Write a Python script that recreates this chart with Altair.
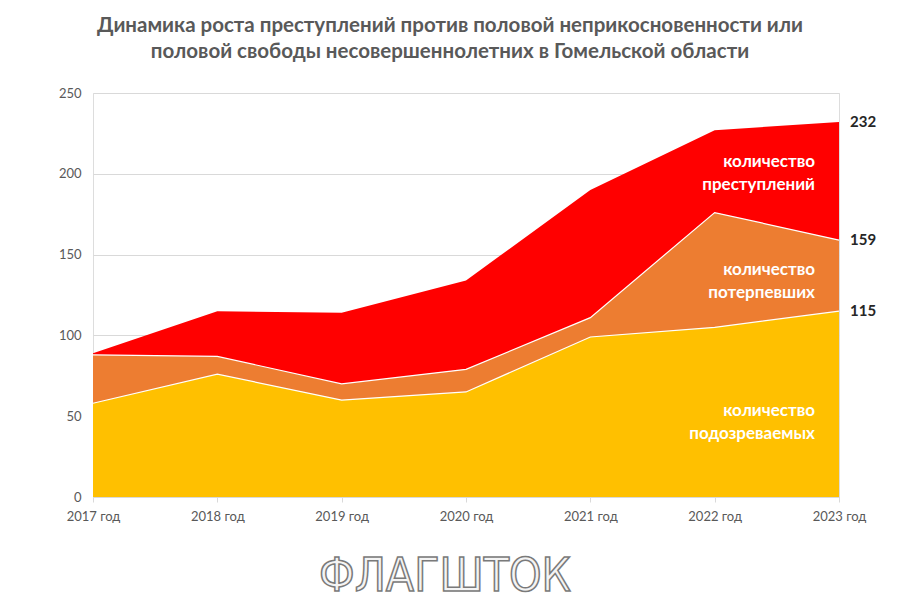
import altair as alt
import pandas as pd

years = ["2017 год", "2018 год", "2019 год", "2020 год", "2021 год", "2022 год", "2023 год"]
crimes = [89, 115, 114, 134, 190, 227, 232]
victims = [88, 87, 70, 79, 111, 176, 159]
suspects = [58, 76, 60, 65, 99, 105, 115]

df = pd.DataFrame({"year": years, "crimes": crimes, "victims": victims, "suspects": suspects})
last = pd.DataFrame({"year": [years[-1]] * 3, "v": [crimes[-1], victims[-1], suspects[-1]],
                     "t": [str(crimes[-1]), str(victims[-1]), str(suspects[-1])]})

FONT = "Lato"
GRAY = "#595959"

x = alt.X("year:N", sort=years, title=None,
          scale=alt.Scale(type="point", padding=0),
          axis=alt.Axis(labelAngle=0, labelColor=GRAY, labelFontSize=13, labelFont=FONT,
                        domainColor="#d9d9d9", tickColor="#d9d9d9", tickSize=5,
                        labelPadding=8, grid=False))
yscale = alt.Scale(domain=[0, 250], nice=False)
yaxis = alt.Axis(values=[0, 50, 100, 150, 200, 250], labelColor=GRAY, labelFontSize=13,
                 labelFont=FONT, domain=False, ticks=False, labelPadding=12,
                 grid=True, gridColor="#d9d9d9", gridWidth=1)

def area(field, color):
    return alt.Chart(df).mark_area(color=color, opacity=1,
                                   line={"color": "white", "strokeWidth": 1.2}).encode(
        x=x, y=alt.Y(f"{field}:Q", scale=yscale, axis=yaxis, title=None))

red = alt.Chart(df).mark_area(color="#FF0000", opacity=1).encode(
    x=x, y=alt.Y("crimes:Q", scale=yscale, axis=yaxis, title=None))
orange = area("victims", "#ED7D31")
yellow = area("suspects", "#FFC000")

vals = alt.Chart(last).mark_text(align="left", dx=11, fontSize=15, fontWeight="bold",
                                 font=FONT, color="#262626").encode(
    x=x, y=alt.Y("v:Q", scale=yscale, axis=yaxis, title=None), text="t:N")

def label(lines, yy):
    return alt.Chart(pd.DataFrame({"a": [0]})).mark_text(
        align="right", baseline="middle", fontSize=17, fontWeight="bold", font=FONT,
        color="white", lineHeight=23).encode(
        x=alt.value(722), y=alt.value(yy), text=alt.value(lines))

l1 = label(["количество", "преступлений"], 69)
l2 = label(["количество", "потерпевших"], 177)
l3 = label(["количество", "подозреваемых"], 318)

logo = alt.Chart(pd.DataFrame({"a": [0]})).mark_text(
    align="center", baseline="middle", fontSize=46,
    font="DejaVu Sans Condensed",
    color="#f4f4f4", stroke="#7a7a7a", strokeWidth=1.5).encode(
    x=alt.value(352), y=alt.value(484),
    text=alt.value("ФЛАГШТОК"))

chart = alt.layer(red, orange, yellow, vals, l1, l2, l3, logo).properties(
    width=746, height=404,
    autosize=alt.AutoSizeParams(type="none"),
    padding={"left": 85, "top": 85, "right": 53, "bottom": 109},
    title=alt.TitleParams(
        ["Динамика роста преступлений против половой неприкосновенности или",
         "половой свободы несовершеннолетних в Гомельской области"],
        anchor="middle", dx=-16, offset=25, fontSize=20.5, font=FONT, fontWeight="bold",
        color=GRAY, lineHeight=26),
).configure_view(stroke="transparent", strokeWidth=0).configure_axisY(
    domain=False, ticks=False).configure_axisX(grid=False).configure(background="white")

chart.save("out.html", embed_options={"renderer": "svg", "actions": False})
